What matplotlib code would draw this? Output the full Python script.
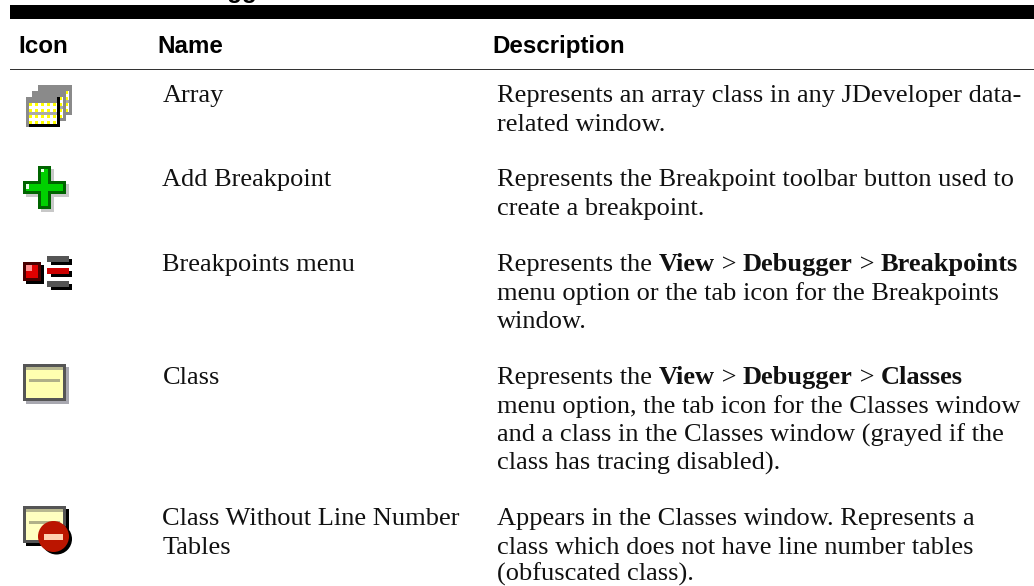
import matplotlib
matplotlib.use('Agg')
import matplotlib.pyplot as plt
from matplotlib.patches import Rectangle, Circle

W, H = 1034, 586

headers = ['Icon', 'Name', 'Description']
header_x = [18, 157, 492.5]

names = [
    (['Array'], 102),
    (['Add Breakpoint'], 186),
    (['Breakpoints menu'], 271),
    (['Class'], 384),
    (['Class Without Line Number', 'Tables'], 525),
]

# each description line: list of (text, bold) runs, then its baseline y
descriptions = [
    ([('Represents an array class in any JDeveloper data-', False)], 102),
    ([('related window.', False)], 131),
    ([('Represents the Breakpoint toolbar button used to', False)], 186),
    ([('create a breakpoint.', False)], 215),
    ([('Represents the ', False), ('View', True), (' > ', False), ('Debugger', True), (' > ', False), ('Breakpoints', True)], 271),
    ([('menu option or the tab icon for the Breakpoints', False)], 300),
    ([('window.', False)], 328),
    ([('Represents the ', False), ('View', True), (' > ', False), ('Debugger', True), (' > ', False), ('Classes', True)], 384),
    ([('menu option, the tab icon for the Classes window', False)], 413),
    ([('and a class in the Classes window (grayed if the', False)], 442),
    ([('class has tracing disabled).', False)], 470),
    ([('Appears in the Classes window. Represents a', False)], 525),
    ([('class which does not have line number tables', False)], 553.5),
    ([('(obfuscated class).', False)], 580.5),
]

fig = plt.figure(figsize=(W / 100, H / 100), dpi=100)
ax = fig.add_axes([0, 0, 1, 1])
ax.set_xlim(0, W)
ax.set_ylim(H, 0)
ax.axis('off')


def box(x, y, w, h, color, z=2):
    ax.add_patch(Rectangle((x, y), w, h, fc=color, ec='none', zorder=z))


# top band, the cut off caption above it and header rule
ax.text(167, -2, 'Debugger', fontsize=17.4, fontweight='bold', family='Liberation Sans', va='baseline')
box(10, 5, W - 10, 14, 'black')
box(10, 69, W - 10, 1.2, '#333333')

for label, x in zip(headers, header_x):
    ax.text(x, 53, label, fontsize=17.4, fontweight='bold', family='Liberation Sans', va='baseline')

serif = 'Liberation Serif'
size = 19
for lines, y in names:
    for i, line in enumerate(lines):
        ax.text(162.5, y + i * 28.5, line, fontsize=size, family=serif, color='#111111', va='baseline')

fig.canvas.draw()
rend = fig.canvas.get_renderer()
for runs, y in descriptions:
    x = 497
    for txt, bold in runs:
        weight = 'bold' if bold else 'normal'
        ax.text(x, y, txt, fontsize=size, family=serif, color='#111111', va='baseline', fontweight=weight)
        # trailing spaces count for the width via a no-break space
        probe = ax.text(0, 0, txt.replace(' ', '\u00a0'), fontsize=size, family=serif, fontweight=weight)
        x += probe.get_window_extent(rend).width
        probe.remove()

# array icon: three stacked windows
for ox, oy in [(12, -12), (6, -6), (0, 0)]:
    box(26 + ox, 97 + oy, 34, 30, '#8a8a8a')
    box(29 + ox, 103 + oy, 28, 21, 'white')
    for gy in [103, 109, 115, 121]:
        for gx in range(29, 57, 6):
            box(gx + ox, gy + oy, 3, 3, '#ffff00')
    box(29 + ox, 112 + oy, 28, 3, '#aaaaaa')
box(29, 124, 31, 3, 'black')
box(57, 97, 3, 30, 'black')

# add breakpoint icon
box(41, 169, 13, 43, '#c8c8c8')
box(26, 184, 43, 13, '#c8c8c8')
box(38, 166, 13, 43, '#006400')
box(23, 181, 43, 13, '#006400')
box(41, 169, 7, 37, '#00d000')
box(26, 184, 37, 7, '#00d000')
box(41, 169, 3, 3, '#e8ffe8')
box(26, 184, 3, 5, '#e8ffe8')

# breakpoints menu icon
box(26, 265, 18, 19, 'black')
box(23, 262, 18, 19, '#4a0000')
box(26, 265, 12, 13, '#e00000')
box(26, 265, 6, 6, '#ff9090')
for y, c in [(256, '#555555'), (268, '#cc0000'), (281, '#555555')]:
    box(51, y + 3, 21, 6, 'black')
    box(47, y, 22, 6, c)

# class icon
box(26, 367, 43, 37, '#a8a8b0')
box(23, 364, 43, 37, '#555555')
box(26, 367, 37, 31, '#ffffb0')
box(26, 367, 37, 3, '#b8b890')
box(29, 379, 31, 3, '#b0b088')

# class without line number tables icon
box(26, 509, 43, 37, 'black')
box(23, 506, 43, 37, '#555555')
box(26, 509, 37, 31, '#ffffc0')
box(26, 509, 37, 3, '#b8b890')
box(29, 521, 31, 3, '#b0b088')
ax.add_patch(Circle((56.5, 539), 15.5, fc='black', ec='none', zorder=3))
ax.add_patch(Circle((53.5, 536.5), 15.5, fc='#bb1500', ec='none', zorder=3))
box(44, 534, 19, 6, '#ffd0b0', z=4)

fig.savefig('out.png', dpi=100, facecolor='white')
